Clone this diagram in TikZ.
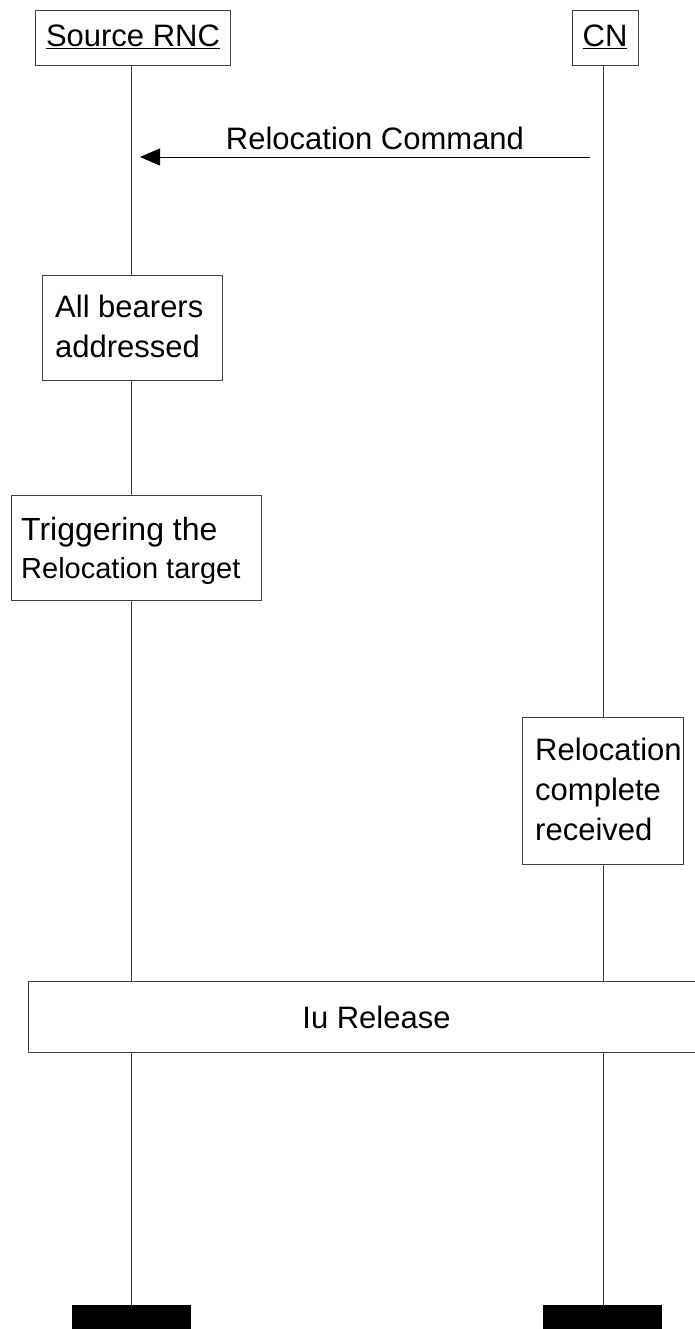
\documentclass[tikz,border=0pt]{standalone}
\usepackage{fontspec}
\setmainfont{Liberation Sans}
\usetikzlibrary{arrows.meta}
\begin{document}
\begin{tikzpicture}[x=1pt,y=-1pt,
  box/.style={draw=black!75, line width=0.8pt, fill=white, inner sep=0pt},
  life/.style={draw=black!75, line width=0.8pt},
  bar/.style={fill=black, inner sep=0pt, minimum width=119pt, minimum height=30pt},
  txt/.style={inner sep=0pt, align=left, font=\fontsize{31}{40}\selectfont},
  msg/.style={draw=black, line width=0.8pt, -{Triangle[length=20pt,width=17pt]}}]
\useasboundingbox (0,0) rectangle (695,1329);

% instances
\node[box, minimum width=195pt, minimum height=55pt] (src) at (132.5,37.5) {};
\node[box, minimum width=66pt, minimum height=55pt] (cn) at (605,37.5) {};
\node[txt, anchor=base] (srcname) at (133,47) {\underline{Source RNC}};
\node[txt, anchor=base] (cnname) at (605,47) {\underline{CN}};

% ends of the lifelines
\node[bar] (srcend) at (131.5,1320) {};
\node[bar] (cnend) at (602.5,1320) {};

% lifelines
\draw[life] (131,65) -- (131,1305);
\draw[life] (603,65) -- (603,1305);

% message
\coordinate (cmdfrom) at (590,157);
\coordinate (cmdto) at (140,157);
\draw[msg] (cmdfrom) -- (cmdto);
\node[txt, anchor=base] (cmdlbl) at (375,150) {Relocation Command};

% actions
\node[box, minimum width=180pt, minimum height=105pt] (bearers) at (132,327.5) {};
\node[txt, anchor=base west] (bearerstxt1) at (55,317) {All bearers};
\node[txt, anchor=base west] (bearerstxt2) at (55,357) {addressed};

\node[box, minimum width=250pt, minimum height=105pt] (trigger) at (136,547.5) {};
\node[txt, anchor=base west] (triggertxt1) at (21,540) {\fontsize{32}{40}\selectfont Triggering the};
\node[txt, anchor=base west] (triggertxt2) at (21,578) {\fontsize{29}{40}\selectfont Relocation target};

\node[box, minimum width=161pt, minimum height=147pt] (complete) at (603,791) {};
\node[txt, anchor=base west] (completetxt1) at (535,760) {Relocation};
\node[txt, anchor=base west] (completetxt2) at (535,800) {complete};
\node[txt, anchor=base west] (completetxt3) at (535,840) {received};

\node[box, minimum width=697pt, minimum height=71pt] (release) at (376.5,1016.5) {};
\node[txt, anchor=base] (releasetxt) at (376.5,1028) {Iu Release};
\end{tikzpicture}
\end{document}
